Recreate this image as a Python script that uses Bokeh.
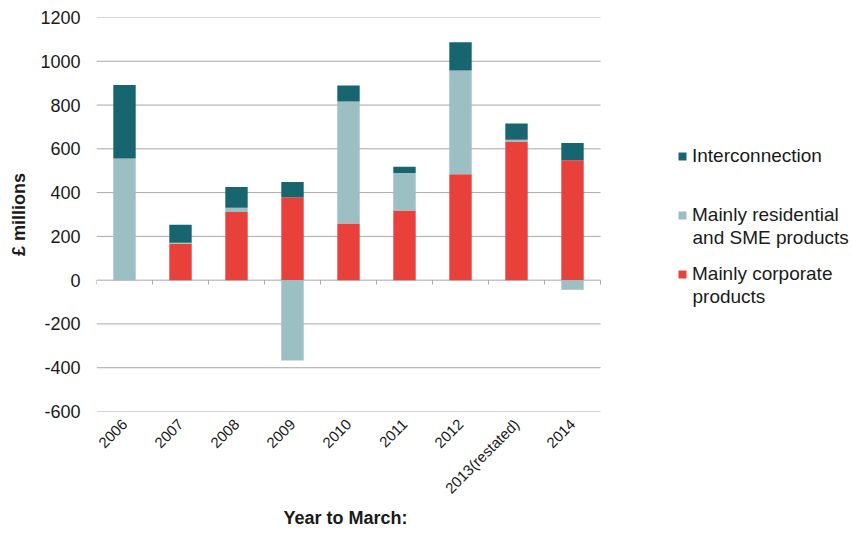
import numpy as np
from bokeh.plotting import figure
from bokeh.models import Range1d, FixedTicker, Legend, LegendItem, Title, Label
from bokeh.embed import file_html
from bokeh.resources import INLINE

# Year-to-March categories and their value by product group (£ millions)
years = ["2006", "2007", "2008", "2009", "2010", "2011", "2012", "2013(restated)", "2014"]
corporate = [0, 166, 311, 379, 259, 318, 484, 633, 548]
residential = [556, 5, 20, -367, 557, 172, 474, 9, -44]
interconnection = [336, 82, 95, 70, 73, 28, 129, 74, 79]
y_ticks = [-600, -400, -200, 0, 200, 400, 600, 800, 1000, 1200]

# (first legend line, second legend line, values, colour), stacked bottom to top
series = [
    ("Mainly corporate", "products", corporate, "#E8403A"),
    ("Mainly residential", "and SME products", residential, "#9BBFC3"),
    ("Interconnection", None, interconnection, "#17656F"),
]

FONT = "Liberation Sans"
TEXT = "#1a1a1a"
GRID = "#a8a8a8"

n = len(years)
xc = np.arange(n) + 0.5

# The frame runs to the right edge so the legend can sit beside the bars;
# the bar area covers x = 0..n and the rest holds the legend.
p = figure(
    frame_width=756, frame_height=394,
    x_range=Range1d(0, n * 1.5), y_range=Range1d(y_ticks[0], y_ticks[-1]),
    output_backend="svg", toolbar_location=None,
    min_border_left=96, min_border_right=0,
    min_border_top=17, min_border_bottom=0,
)
p.outline_line_color = None
p.xgrid.visible = False
p.ygrid.visible = False

# Horizontal gridlines across the bar area only
p.segment(x0=np.zeros(len(y_ticks)), y0=y_ticks, x1=np.full(len(y_ticks), n), y1=y_ticks,
          line_color=GRID, line_width=1)

# Category-boundary ticks under the zero line
bounds = np.arange(n + 1)
p.segment(x0=bounds, y0=np.zeros(n + 1), x1=bounds, y1=np.full(n + 1, -20.0),
          line_color=GRID, line_width=1)

# Positive values stack upward from zero, negative values downward
pos_base = np.zeros(n)
neg_base = np.zeros(n)
renderers = []
for first, second, vals, color in series:
    v = np.asarray(vals, dtype=float)
    bottom = np.where(v >= 0, pos_base, neg_base)
    top = bottom + v
    pos_base = pos_base + np.clip(v, 0, None)
    neg_base = neg_base + np.clip(v, None, 0)
    r = p.vbar(x=xc, width=0.4, bottom=bottom, top=top,
               fill_color=color, line_color=None)
    renderers.append((first, second, r))

# Y axis
ya = p.yaxis[0]
ya.ticker = FixedTicker(ticks=y_ticks)
ya.major_label_overrides = {t: str(t) for t in y_ticks}
ya.axis_line_color = None
ya.major_tick_line_color = None
ya.minor_tick_line_color = None
ya.major_tick_out = 0
ya.major_tick_in = 0
ya.major_label_text_font = FONT
ya.major_label_text_font_size = "18px"
ya.major_label_text_color = TEXT
ya.major_label_standoff = 16
ya.axis_label = "£ millions"
ya.axis_label_text_font = FONT
ya.axis_label_text_font_style = "bold"
ya.axis_label_text_font_size = "18px"
ya.axis_label_text_color = TEXT
ya.axis_label_standoff = 8

# X axis: category labels along the bottom of the frame
xa = p.xaxis[0]
xa.ticker = FixedTicker(ticks=list(xc))
xa.major_label_overrides = {float(x): y for x, y in zip(xc, years)}
xa.axis_line_color = None
xa.major_tick_line_color = None
xa.minor_tick_line_color = None
xa.major_tick_out = 0
xa.major_tick_in = 0
xa.major_label_orientation = np.pi / 4
xa.major_label_text_font = FONT
xa.major_label_text_font_size = "15px"
xa.major_label_text_color = TEXT
xa.major_label_standoff = 10

xtitle = Title(text="Year to March:", align="left", offset=187,
               text_font=FONT, text_font_size="18px", text_font_style="bold",
               text_color=TEXT)
if "standoff" in Title.properties():
    xtitle.standoff = 1
p.add_layout(xtitle, "below")

# Legend to the right of the bars: first lines in the legend, second lines as labels
items = [LegendItem(label=first, renderers=[r]) for first, _, r in reversed(renderers)]
legend = Legend(items=items, location=(581, 126),
                glyph_width=10, glyph_height=10, label_standoff=5,
                spacing=37, padding=0, margin=0,
                label_text_font=FONT, label_text_font_size="19px",
                label_text_color=TEXT,
                border_line_color=None, background_fill_alpha=0)
p.add_layout(legend)

for i, (first, second, r) in enumerate(reversed(renderers)):
    if second is None:
        continue
    p.add_layout(Label(x=596, y=394 - (138 + 59 * i + 23), x_units="screen", y_units="screen",
                       text=second, text_font=FONT, text_font_size="19px",
                       text_color=TEXT, text_baseline="middle", text_align="left"))

open("out.html", "w").write(file_html(p, INLINE))
